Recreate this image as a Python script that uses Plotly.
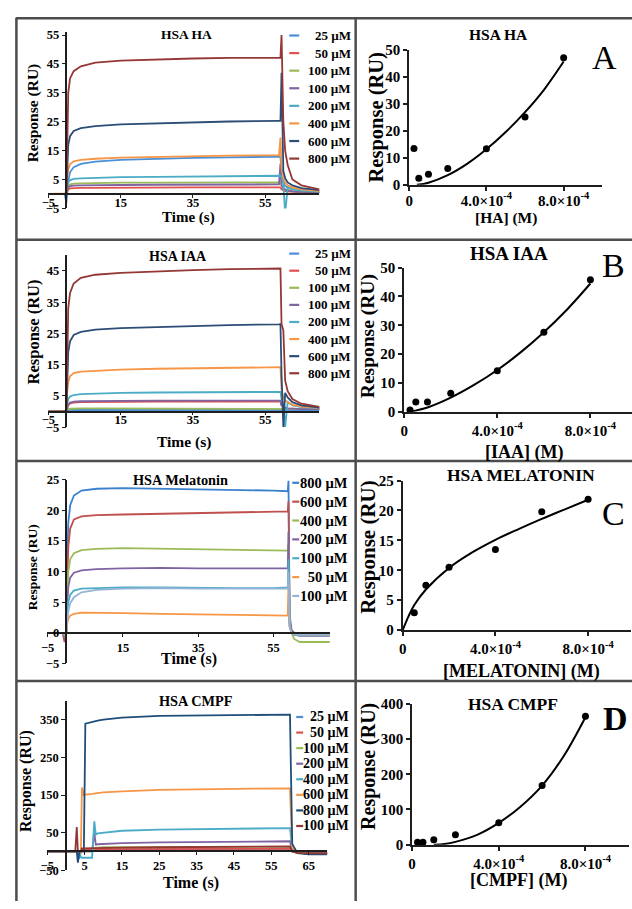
import plotly.graph_objects as go

# ======================= DATA =======================
# --- Sensorgrams: time (s) and responses (RU) ---
tA = [-5, -0.5, 0, 0.2, 0.5, 1, 2, 4, 8, 15, 25, 35, 45, 58.8, 59.2, 59.5, 60.0, 60.5, 61.2, 62.5, 65, 70]
HA_labels = ["25 µM", "50 µM", "100 µM", "100 µM", "200 µM", "400 µM", "600 µM", "800 µM"]
ha_25 = [0, 0, -3, 1.5, 4.5, 7.5, 9.3, 10.4, 11.2, 11.8, 12.2, 12.5, 12.7, 12.9, 12.9, 8, 4, 2.8, 2.2, 1.7, 1.2, 0.8]
ha_50 = [0, 0, 0, 0.8, 1.6, 1.9, 2.0, 2.1, 2.1, 2.2, 2.2, 2.3, 2.3, 2.3, 2.3, 1.6, 1.2, 1.0, 0.9, 0.8, 0.6, 0.5]
ha_100g = [0, 0, 0, 1.5, 2.8, 3.3, 3.6, 3.7, 3.8, 3.9, 3.9, 4.0, 4.0, 4.0, 4.0, 3.0, 2.0, 1.6, 1.3, 1.0, 0.8, 0.6]
ha_100p = [0, 0, 0, 1.2, 2.2, 2.7, 2.9, 3.0, 3.1, 3.1, 3.2, 3.2, 3.3, 3.3, 10.5, 3.0, 2.0, 1.5, 1.2, 0.9, 0.7, 0.5]
ha_200 = [0, 0, 0, 2.5, 4.0, 4.8, 5.2, 5.4, 5.6, 5.8, 5.9, 6.0, 6.1, 6.3, 6.3, 6.0, 4.0, -7, 2.5, 1.6, 1.2, 0.8]
ha_400 = [0, 0, 0.2, 5.0, 8.5, 10.3, 11.3, 11.8, 12.2, 12.6, 12.9, 13.1, 13.3, 13.4, 19.5, 9, 5.5, 4, 3, 2.2, 1.6, 1.0]
ha_600 = [0, 0, 0.3, 10, 17, 20, 21.8, 22.8, 23.5, 24.1, 24.5, 24.8, 25.1, 25.3, 25.3, 42, 8, 5.5, 4, 3, 2, 1.3]
ha_800 = [0, 0, 0.5, 20, 35, 40, 42.5, 44.2, 45.5, 46.2, 46.6, 46.9, 47.1, 47.2, 47.2, 55, 25, 15, 10, 5, 3, 1.6]

tB = [-5, -0.5, 0, 0.2, 0.5, 1, 2, 4, 8, 15, 25, 35, 45, 58.8, 59.2, 59.5, 60.0, 60.5, 61.2, 62.5, 65, 70]
IAA_labels = ["25 µM", "50 µM", "100 µM", "100 µM", "200 µM", "400 µM", "600 µM", "800 µM"]
iaa_25 = [0, 0, 0, 0.2, 0.4, 0.5, 0.5, 0.5, 0.5, 0.5, 0.5, 0.5, 0.5, 0.5, 0.5, 0.5, 0.5, 0.5, 0.5, 0.5, 0.5, 0.5]
iaa_50 = [0, 0, 0, 1.0, 2.0, 2.6, 2.9, 3.0, 3.1, 3.1, 3.2, 3.2, 3.2, 3.2, 3.2, 2.0, 1.5, 1.2, 1.0, 0.9, 0.8, 0.8]
iaa_100g = [0, 0, 0, 0.5, 0.8, 0.9, 1.0, 1.0, 1.0, 1.0, 1.0, 1.0, 1.0, 1.0, 1.0, 0.9, 0.8, 0.8, 0.8, 0.8, 0.8, 0.8]
iaa_100p = [0, 0, 0, 1.2, 2.3, 2.9, 3.2, 3.3, 3.4, 3.4, 3.5, 3.5, 3.5, 3.5, 3.5, 2.0, 1.5, 1.2, 1.0, 0.9, 0.8, 0.8]
iaa_200 = [0, 0, 0, 2.5, 4.0, 4.8, 5.3, 5.6, 5.8, 6.0, 6.1, 6.2, 6.3, 6.3, 6.3, 4.0, 2.5, -5, 3.0, 2.0, 1.4, 1.0]
iaa_400 = [0, 0, 0.2, 6.0, 9.5, 11.3, 12.3, 12.8, 13.1, 13.4, 13.7, 13.9, 14.1, 14.2, 14.2, 7.0, 4.5, 3.5, 3.0, 2.2, 1.6, 1.2]
iaa_600 = [0, 0, 0.3, 12, 19, 22.5, 24.5, 25.5, 26.2, 26.7, 27.1, 27.4, 27.7, 27.9, 28.0, 12, -5, 6, 4.5, 3.0, 2.0, 1.3]
iaa_800 = [0, 0, 0.5, 22, 33, 38, 41, 42.8, 43.8, 44.4, 44.9, 45.3, 45.6, 45.8, 45.8, 28, 26, 10, 6.5, 4.0, 2.5, 1.5]

tC = [-5, -1, -0.5, 0, 0.2, 0.5, 1, 2, 4, 8, 15, 25, 35, 45, 55, 58.8, 59.0, 59.3, 59.8, 60.5, 62, 65, 70]
MEL_labels = ["800 µM", "600 µM", "400 µM", "200 µM", "100 µM", " 50 µM", "100 µM"]
mel_800 = [0, 0, -0.5, 0, 12, 18, 20.8, 22.4, 23.2, 23.5, 23.6, 23.5, 23.4, 23.4, 23.2, 23.1, 24.8, 3, 0.5, 0, -0.3, -0.3, -0.3]
mel_600 = [0, 0, -1.5, 0, 8, 14, 17, 18.5, 19.0, 19.2, 19.3, 19.4, 19.5, 19.6, 19.7, 19.8, 21.5, 2, 0.3, 0, -0.3, -0.3, -0.3]
mel_400 = [0, 0, -0.5, 0, 6, 10, 12, 13.0, 13.5, 13.7, 13.8, 13.7, 13.6, 13.5, 13.4, 13.4, 14.5, 1.5, 0, -1, -1.5, -1.5, -1.5]
mel_200 = [0, 0, -0.8, 0, 4.5, 7.5, 9.0, 9.8, 10.2, 10.4, 10.5, 10.6, 10.5, 10.5, 10.5, 10.5, 16.5, 1.5, 0.2, -0.3, -0.5, -0.5, -0.5]
mel_100 = [0, 0, -0.5, 0, 3, 5, 6.2, 6.9, 7.2, 7.3, 7.4, 7.4, 7.3, 7.3, 7.3, 7.4, 12, 1, 0, -0.3, -0.4, -0.4, -0.4]
mel_50 = [0, 0, -0.3, 0, 1.5, 2.3, 2.8, 3.1, 3.3, 3.3, 3.2, 3.1, 3.0, 3.0, 2.9, 2.8, 8, 1, 0, -0.2, -0.3, -0.3, -0.3]
mel_100b = [0, 0, 0, 0, 2, 3.5, 4.8, 5.8, 6.6, 7.0, 7.2, 7.3, 7.2, 7.2, 7.2, 7.2, 10, 1, 0, -0.2, -0.3, -0.3, -0.3]

tD = [-5, 2.5, 2.9, 3.2, 3.6, 4.0, 4.3, 4.8, 5.2, 7.0, 7.6, 8.0, 8.5, 10, 15, 25, 40, 60, 60.6, 62, 65, 70]
CMPF_labels = ["25 µM", "50 µM", "100 µM", "200 µM", "400 µM", "600 µM", "800 µM", "100 µM"]
cm_25 = [0, 0, 0, 0, -20, 0, 3, 3, 3, 3, 4, 4, 4, 5, 5, 6, 6, 7, 0, -4, -5, -5]
cm_50 = [0, 0, 0, 0, 0, 0, 5, 6, 6, 6, 6, 6.5, 7, 7, 7, 7, 7, 7, 0, -4, -5, -5]
cm_100g = [0, 0, 0, 0, 0, 0, 0, 0, 0, 0, 8, 10, 10, 11, 11, 11.5, 12, 12, 0, -4, -5, -5]
cm_200 = [0, 0, 0, 0, 0, 0, 0, 0, 0, 0, 50, 18, 19, 20, 22, 24, 26, 27, 3, -3, -4, -4]
cm_400 = [0, 0, 0, 0, 0, -15, -17, -17, -17, -17, 80, 45, 48, 50, 55, 58, 60, 62, 5, -3, -5, -5]
cm_600 = [0, 0, 0, 0, 0, -5, 170, 150, 151, 153, 154, 154, 155, 157, 160, 164, 166, 168, 10, -4, -6, -6]
cm_800 = [0, 0, 0, -30, 0, 0, 0, 0, 340, 345, 346, 347, 348, 351, 356, 361, 363, 364, 20, -5, -8, -8]
cm_100r = [0, 0, 65, 0, 0, 0, 8, 8, 8, 8, 9, 9, 9, 10, 10, 11, 12, 13, 0, -4, -5, -5]

# --- Binding curves: concentration (M) vs response (RU) ---
concA = [2.5e-5, 5e-5, 1e-4, 2e-4, 4e-4, 6e-4, 8e-4]
respA = [13.5, 2.4, 3.9, 6.1, 13.4, 25.2, 47.2]
fitA_x = [0.4e-4, 1e-4, 2e-4, 3e-4, 4e-4, 5e-4, 6e-4, 7e-4, 8e-4]
fitA_y = [0, 0.8, 3.6, 7.8, 13.2, 19.6, 27.0, 35.5, 45.8]

concB = [2.5e-5, 5e-5, 1e-4, 2e-4, 4e-4, 6e-4, 8e-4]
respB = [0.6, 3.4, 3.4, 6.4, 14.2, 27.6, 45.8]
fitB_x = [0.25e-4, 1e-4, 2e-4, 3e-4, 4e-4, 5e-4, 6e-4, 7e-4, 8e-4]
fitB_y = [0, 1.5, 4.9, 9.3, 14.5, 20.6, 27.6, 35.5, 44.5]

concC = [5e-5, 1e-4, 2e-4, 4e-4, 6e-4, 8e-4]
respC = [2.9, 7.5, 10.5, 13.5, 19.8, 21.9]
fitC_x = [0, 0.25e-4, 0.5e-4, 1e-4, 2e-4, 3e-4, 4e-4, 5e-4, 6e-4, 7e-4, 8e-4]
fitC_y = [0, 2.3, 4.2, 6.8, 10.4, 13.0, 15.1, 16.9, 18.6, 20.2, 21.8]

concD = [2.5e-5, 5e-5, 1e-4, 2e-4, 4e-4, 6e-4, 8e-4]
respD = [7, 7, 14, 28, 62, 168, 365]
fitD_x = [1.0e-4, 1.5e-4, 2e-4, 3e-4, 4e-4, 5e-4, 6e-4, 7e-4, 8e-4]
fitD_y = [0, 2, 8, 28, 62, 108, 168, 252, 362]

conc_ticks = [0, 4e-4, 8e-4]
conc_ticktext = ["0", "4.0×10<sup>-4</sup>", "8.0×10<sup>-4</sup>"]

# ======================= STYLE / LAYOUT =======================
W, H = 632, 909
FONT = "'Liberation Serif', 'Times New Roman', Times, serif"
AX = "#1e1e1e"
FRAME = "#4d4d4d"

COL_8 = ["#4a8fd8", "#e0504d", "#9bbb59", "#8064a2", "#4bacc6", "#f79646", "#2c4d75", "#953735"]
COL_MEL = ["#3a80cc", "#c0504d", "#9bbb59", "#8064a2", "#4bacc6", "#f79646", "#95b3d7"]
COL_CMPF = ["#4a8fd8", "#e0504d", "#9bbb59", "#8064a2", "#4bacc6", "#f79646", "#1f4e79", "#943634"]


def fx(p):
    return p / W


def fy(p):
    return 1 - p / H


fig = go.Figure()
lay = {}
anns = []
shapes = []


def text(s, x, y, size, bold=True, angle=0, xanchor="center"):
    anns.append(dict(text=(f"<b>{s}</b>" if bold else s), x=fx(x), y=fy(y), xref="paper", yref="paper",
                     showarrow=False, textangle=angle, xanchor=xanchor, yanchor="middle",
                     font=dict(family=FONT, size=size, color="black")))


def axname(kind, i):
    return kind + ("axis" if i == 1 else f"axis{i}")


def ref(kind, i):
    return kind if i == 1 else f"{kind}{i}"


def left_panel(i, t, series, colors, g):
    for ys, c in zip(series, colors):
        fig.add_trace(go.Scatter(x=t, y=ys, mode="lines", line=dict(color=c, width=1.8),
                                 xaxis=ref("x", i), yaxis=ref("y", i), showlegend=False, hoverinfo="skip"))
    x0, sx, y0, sy = g["x0"], g["sx"], g["y0"], g["sy"]
    xr, yr = g["xr"], g["yr"]
    tf = dict(family=FONT, size=12.5, color="black", weight="bold")
    lay[axname("x", i)] = dict(domain=[fx(x0 + xr[0] * sx), fx(x0 + xr[1] * sx)], range=xr,
                               anchor="free", position=fy(y0), showline=True, linecolor=AX, linewidth=1.5,
                               ticks="outside", ticklen=3, tickcolor=AX, tickmode="linear",
                               tick0=g["t0x"], dtick=g["dx"], tickfont=tf, showgrid=False, zeroline=False,
                               ticklabelstandoff=g.get("xstand", 0))
    lay[axname("y", i)] = dict(domain=[fy(y0 - yr[0] * sy), fy(y0 - yr[1] * sy)], range=yr,
                               anchor="free", position=fx(x0), showline=True, linecolor=AX, linewidth=1.5,
                               ticks="outside", ticklen=4, tickcolor=AX, tickmode="linear",
                               tick0=g["t0y"], dtick=g["dy"], tickfont=tf, showgrid=False, zeroline=False)


def right_panel(i, cx, cy, fxs, fys, g):
    fig.add_trace(go.Scatter(x=fxs, y=fys, mode="lines", line=dict(color="black", width=2, shape="spline"),
                             xaxis=ref("x", i), yaxis=ref("y", i), showlegend=False, hoverinfo="skip"))
    fig.add_trace(go.Scatter(x=cx, y=cy, mode="markers", marker=dict(color="black", size=7),
                             cliponaxis=False, xaxis=ref("x", i), yaxis=ref("y", i),
                             showlegend=False, hoverinfo="skip"))
    x0, sx, y0, sy = g["x0"], g["sx"], g["y0"], g["sy"]
    xr, yr = g["xr"], g["yr"]
    lay[axname("x", i)] = dict(domain=[fx(x0), fx(x0 + xr[1] * sx)], range=xr, anchor=ref("y", i),
                               showline=True, linecolor=AX, linewidth=1.8, ticks="outside", ticklen=4,
                               tickcolor=AX, tickwidth=1.5, tickmode="array", tickvals=conc_ticks,
                               ticktext=conc_ticktext,
                               tickfont=dict(family=FONT, size=15, color="black", weight="bold"),
                               showgrid=False, zeroline=False, ticklabelstandoff=g.get("xstand", 0))
    lay[axname("y", i)] = dict(domain=[fy(y0), fy(y0 - yr[1] * sy)], range=yr, anchor=ref("x", i),
                               showline=True, linecolor=AX, linewidth=1.8, ticks="outside", ticklen=4,
                               tickcolor=AX, tickwidth=1.5, tickmode="linear", tick0=0, dtick=g["dy"],
                               tickfont=dict(family=FONT, size=15, color="black", weight="bold"),
                               showgrid=False, zeroline=False)


def legend(labels, colors, y_first, step, lx0, lx1, tx, size):
    for k, (lab, c) in enumerate(zip(labels, colors)):
        ry = y_first + k * step
        shapes.append(dict(type="line", xref="paper", yref="paper", x0=fx(lx0), x1=fx(lx1),
                           y0=fy(ry), y1=fy(ry), line=dict(color=c, width=2.2)))
        text(lab, tx, ry, size, xanchor="right")


# ---- Row A ----
left_panel(1, tA, [ha_25, ha_50, ha_100g, ha_100p, ha_200, ha_400, ha_600, ha_800], COL_8,
           dict(x0=61, sx=3.65, y0=189.3, sy=2.94, xr=[-5.2, 70], yr=[-5, 56], t0x=-5, dx=20, t0y=-5, dy=10,
                xstand=-6))
right_panel(2, concA, respA, fitA_x, fitA_y,
            dict(x0=407, sx=195000, y0=180, sy=2.74, xr=[0, 1e-3], yr=[0, 50], dy=10, xstand=-3))
text("HSA HA", 182, 27, 13.5)
text("Response (RU)", 27.5, 107, 15.5, angle=-90)
text("Time (s)", 184, 213, 15)
legend(HA_labels, COL_8, 28, 17.9, 286, 296, 350, 13)
text("HSA HA", 497, 27, 15.5)
text("Response (RU)", 374, 111, 20.5, angle=-90)
text("[HA] (M)", 505, 214, 15.5)
text("A", 604, 50, 34, bold=False)

# ---- Row B ----
left_panel(3, tB, [iaa_25, iaa_50, iaa_100g, iaa_100p, iaa_200, iaa_400, iaa_600, iaa_800], COL_8,
           dict(x0=61, sx=3.65, y0=410.8, sy=3.18, xr=[-5.2, 70], yr=[-5, 50], t0x=-5, dx=20, t0y=-5, dy=10,
                xstand=-6))
right_panel(4, concB, respB, fitB_x, fitB_y,
            dict(x0=402, sx=235000, y0=411, sy=2.934, xr=[0, 0.978e-3], yr=[0, 50], dy=10))
text("HSA IAA", 174, 253, 14)
text("Response (RU)", 27.5, 330, 16.5, angle=-90)
text("Time (s)", 180, 442, 15.5)
legend(IAA_labels, COL_8, 250, 17.4, 286, 296, 350, 13)
text("HSA IAA", 508, 250, 19)
text("Response (RU)", 365.5, 334, 19.5, angle=-90)
text("[IAA] (M)", 523, 452, 18)
text("B", 613, 262, 34, bold=False)

# ---- Row C ----
left_panel(5, tC, [mel_800, mel_600, mel_400, mel_200, mel_100, mel_50, mel_100b], COL_MEL,
           dict(x0=61, sx=3.8, y0=636, sy=6.24, xr=[-5.2, 70], yr=[-5, 25], t0x=-5, dx=20, t0y=0, dy=5))
right_panel(6, concC, respC, fitC_x, fitC_y,
            dict(x0=400.5, sx=234000, y0=633.3, sy=6.09, xr=[0, 0.985e-3], yr=[0, 25], dy=5))
text("HSA Melatonin", 176, 480, 14.3)
text("Response (RU)", 27.5, 569, 13.5, angle=-90)
text("Time (s)", 185, 663, 16)
legend(MEL_labels, COL_MEL, 483.3, 19.2, 289, 296, 347, 14.5)
text("HSA MELATONIN", 520, 475, 17.5)
text("Response (RU)", 366, 549, 21, angle=-90)
text("[MELATONIN] (M)", 520, 675, 18)
text("C", 613, 515, 34, bold=False)

# ---- Row D ----
left_panel(7, tD, [cm_25, cm_50, cm_100g, cm_200, cm_400, cm_600, cm_800, cm_100r], COL_CMPF,
           dict(x0=60.5, sx=3.77, y0=858.5, sy=0.3823, xr=[-5.2, 70], yr=[-50, 400], t0x=-5, dx=10, t0y=-50, dy=100))
right_panel(8, concD, respD, fitD_x, fitD_y,
            dict(x0=410, sx=218750, y0=851.7, sy=0.3585, xr=[0, 1e-3], yr=[0, 400], dy=100))
text("HSA CMPF", 192, 705, 14.3)
text("Response (RU)", 20, 787, 16, angle=-90)
text("Time (s)", 187, 891, 16)
legend(CMPF_labels, COL_CMPF, 721.7, 15.85, 293, 300, 348, 14)
text("HSA CMPF", 512, 708, 17.5)
text("Response (RU)", 366, 772, 20, angle=-90)
text("[CMPF] (M)", 517, 888, 18)
text("D", 615, 723, 34)

# ---- panel frame ----
for (xa, ya, xb, yb) in [(10, 10.5, 632, 10.5), (10.5, 10, 10.5, 909), (353, 10, 353, 909),
                         (10, 236, 632, 236), (10, 461, 632, 461), (10, 685, 632, 685)]:
    shapes.append(dict(type="line", xref="paper", yref="paper", x0=fx(xa), y0=fy(ya), x1=fx(xb), y1=fy(yb),
                       line=dict(color=FRAME, width=2.5)))

fig.update_layout(width=W, height=H, margin=dict(l=0, r=0, t=0, b=0), paper_bgcolor="white",
                  plot_bgcolor="white", showlegend=False, annotations=anns, shapes=shapes,
                  font=dict(family=FONT), **lay)
fig.write_html("out.html")
